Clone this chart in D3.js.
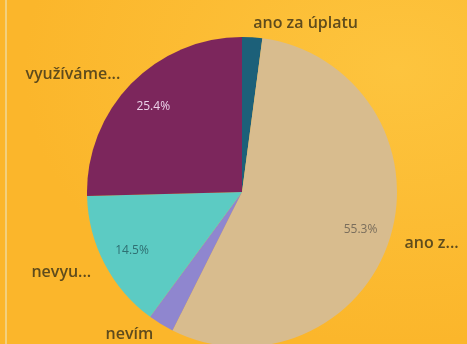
<!DOCTYPE html>
<html>
<head>
<meta charset="utf-8">
<script src="https://cdn.jsdelivr.net/npm/d3@7/dist/d3.min.js"></script>
<style>
  html, body { margin: 0; padding: 0; background: #fbb52a; }
  svg { display: block; }
</style>
</head>
<body>
<svg id="chart" width="467" height="344"></svg>
<script>
// Answers, in clockwise order from 12 o'clock
const categories = ["ano za úplatu", "ano z...", "nevím", "nevyu...", "využíváme..."];
const shares = [2.1, 55.3, 2.7, 14.5, 25.4];
const sliceColors = ["#1f6079", "#d8bc8e", "#8f86cf", "#5ccbc3", "#7b275b"];
const valueLabelColors = ["#ffffff", "#7a6e5c", "#ffffff", "#2f6f72", "#ecd3ea"];
const showValue = [false, true, false, true, true];

const W = 467, H = 344;
const cx = 242, cy = 192, R = 155;

const svg = d3.select("#chart");

// backdrop: warm orange with a lighter glow toward the upper right
const defs = svg.append("defs");
const glow = defs.append("radialGradient").attr("id", "glow")
  .attr("cx", "0.85").attr("cy", "0.2").attr("r", "0.8");
glow.append("stop").attr("offset", "0").attr("stop-color", "#fdc43e");
glow.append("stop").attr("offset", "1").attr("stop-color", "#fbb62b");
defs.append("filter").attr("id", "soft")
  .append("feGaussianBlur").attr("stdDeviation", 0.45);

svg.append("rect").attr("width", W).attr("height", H).attr("fill", "url(#glow)");
svg.append("rect").attr("x", 5).attr("y", 0).attr("width", 2).attr("height", H)
  .attr("fill", "#f3d07c");

const pie = d3.pie().sort(null).value(d => d.v);
const data = categories.map((c, i) => ({ c, v: shares[i], i }));
const arcs = pie(data);

const arc = d3.arc().innerRadius(0).outerRadius(R);
const valueArc = d3.arc().innerRadius(124).outerRadius(124);
const nameArc = d3.arc().innerRadius(170).outerRadius(170);

const g = svg.append("g").attr("transform", `translate(${cx},${cy})`)
  .attr("filter", "url(#soft)");

g.selectAll("path.slice").data(arcs).join("path")
  .attr("class", "slice")
  .attr("d", arc)
  .attr("fill", d => sliceColors[d.data.i]);

g.selectAll("text.value").data(arcs.filter(d => showValue[d.data.i])).join("text")
  .attr("class", "value")
  .attr("transform", d => `translate(${valueArc.centroid(d)})`)
  .attr("text-anchor", "middle")
  .attr("dominant-baseline", "central")
  .attr("font-family", "'Open Sans', sans-serif")
  .attr("font-size", 12)
  .attr("fill", d => valueLabelColors[d.data.i])
  .text(d => d.data.v.toFixed(1) + "%");

// category names sit outside the rim; keep the lowest one inside the frame
const namePos = d => {
  const [x, y] = nameArc.centroid(d);
  return [x, Math.min(y, H - cy - 11)];
};

g.selectAll("text.name").data(arcs).join("text")
  .attr("class", "name")
  .attr("transform", d => `translate(${namePos(d)})`)
  .attr("text-anchor", d => namePos(d)[0] >= 0 ? "start" : "end")
  .attr("dominant-baseline", "central")
  .attr("font-family", "'Open Sans', sans-serif")
  .attr("font-weight", 600)
  .attr("font-size", 16)
  .attr("fill", "#5e4b1c")
  .text(d => d.data.c);
</script>
</body>
</html>
